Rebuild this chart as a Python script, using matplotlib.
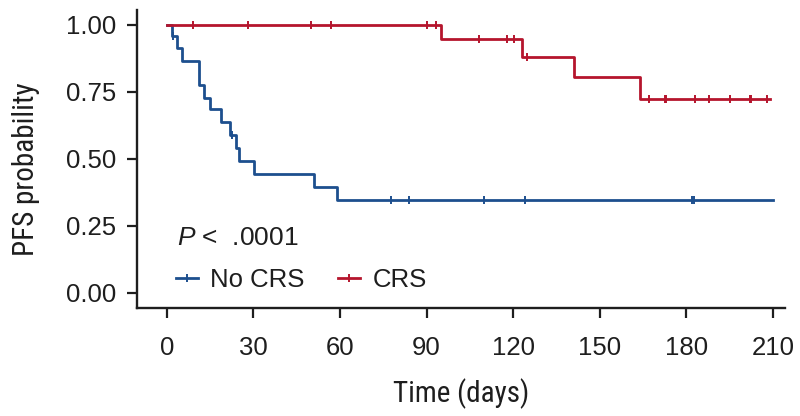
import numpy as np
import matplotlib
matplotlib.use("Agg")
import matplotlib.pyplot as plt
from matplotlib.lines import Line2D
from matplotlib import font_manager as fm

# ---- data ----
times_nocrs = [0, 1.8, 3.6, 5.1, 11.1, 12.8, 14.9, 18.7, 21.8, 24.1, 24.9, 30.2, 50.9, 59.1, 210]
surv_nocrs = [1.0, 0.96, 0.913, 0.866, 0.775, 0.729, 0.685, 0.636, 0.589, 0.542, 0.492, 0.445, 0.395, 0.345, 0.345]
censor_nocrs = [2.0, 22.5, 77.8, 83.8, 109.9, 124.0, 181.9, 182.5]

times_crs = [0, 95, 123, 141, 164.1, 209]
surv_crs = [1.0, 0.946, 0.879, 0.804, 0.725, 0.725]
censor_crs = [9.1, 28, 50.1, 56.8, 90, 93.1, 108, 117.9, 120.3, 124.8, 166.9, 172.5,
              173.1, 182.9, 187.8, 195, 201.9, 202.5, 208.1]

x_ticks = [0, 30, 60, 90, 120, 150, 180, 210]
y_ticks = [0.00, 0.25, 0.50, 0.75, 1.00]
y_ticklabels = ["0.00", "0.25", "0.50", "0.75", "1.00"]
series_labels = ["No CRS", "CRS"]
p_text = "$P$ <  .0001"

BLUE = "#1d4f8e"
RED = "#b5152d"
INK = "#1e1e1e"

plt.rcParams['font.family'] = ['Liberation Sans', 'DejaVu Sans']
plt.rcParams['mathtext.fontset'] = 'custom'
plt.rcParams['mathtext.it'] = 'Liberation Sans:italic'
plt.rcParams['mathtext.rm'] = 'Liberation Sans'

# pick a condensed family if one is installed
available = {f.name for f in fm.fontManager.ttflist}
cond = None
for cand in ['Liberation Sans Narrow', 'DejaVu Sans Condensed', 'Roboto Condensed',
             'Open Sans Condensed', 'Noto Sans Condensed']:
    if cand in available:
        cond = cand
        break
cond_stretch = 'normal'
if cond is None:
    cond = 'DejaVu Sans'
    cond_stretch = 'condensed'

fig = plt.figure(figsize=(8.0, 4.16), dpi=100)
ax = fig.add_axes([0.171, 0.26, 0.81, 0.716])


def step_at(times, surv, t):
    idx = np.searchsorted(np.asarray(times), t, side='right') - 1
    return np.asarray(surv)[idx]


for times, surv, cens, col in [(times_nocrs, surv_nocrs, censor_nocrs, BLUE),
                               (times_crs, surv_crs, censor_crs, RED)]:
    ax.step(times, surv, where='post', color=col, lw=2.0, zorder=3)
    ax.plot(cens, step_at(times, surv, cens), ls='none', marker='|', ms=6,
            mew=1.4, color=col, zorder=4)

ax.set_xlim(-10.4, 214.1)
ax.set_ylim(-0.056, 1.056)
ax.set_xticks(x_ticks)
ax.set_yticks(y_ticks)
ax.set_yticklabels(y_ticklabels)

for s in ['top', 'right']:
    ax.spines[s].set_visible(False)
for s in ['left', 'bottom']:
    ax.spines[s].set_linewidth(1.7)
    ax.spines[s].set_color(INK)

ax.tick_params(axis='both', direction='out', length=7, width=1.6, color=INK,
               labelsize=18.5, labelcolor=INK)
ax.tick_params(axis='x', pad=13.5)
ax.tick_params(axis='y', pad=8)

ax.set_xlabel("Time (days)", fontsize=21, family=cond, stretch=cond_stretch, color=INK)
ax.set_ylabel("PFS probability", fontsize=21, family=cond, stretch=cond_stretch, color=INK)
ax.xaxis.set_label_coords(0.5, -0.235)
ax.yaxis.set_label_coords(-0.15, 0.466)

ax.text(0.062, 0.235, p_text, transform=ax.transAxes, fontsize=19,
        color=INK, va='center', ha='left')

handles = [Line2D([], [], color=BLUE, lw=2.0, marker='|', ms=6, mew=1.4),
           Line2D([], [], color=RED, lw=2.0, marker='|', ms=6, mew=1.4)]
leg = ax.legend(handles, series_labels, loc='center left', bbox_to_anchor=(0.06, 0.094),
                ncol=2, frameon=False, fontsize=18.5, handlelength=0.85,
                handletextpad=0.5, columnspacing=1.3, borderaxespad=0, borderpad=0)
for t in leg.get_texts():
    t.set_color(INK)

fig.savefig("out.png", dpi=100)
